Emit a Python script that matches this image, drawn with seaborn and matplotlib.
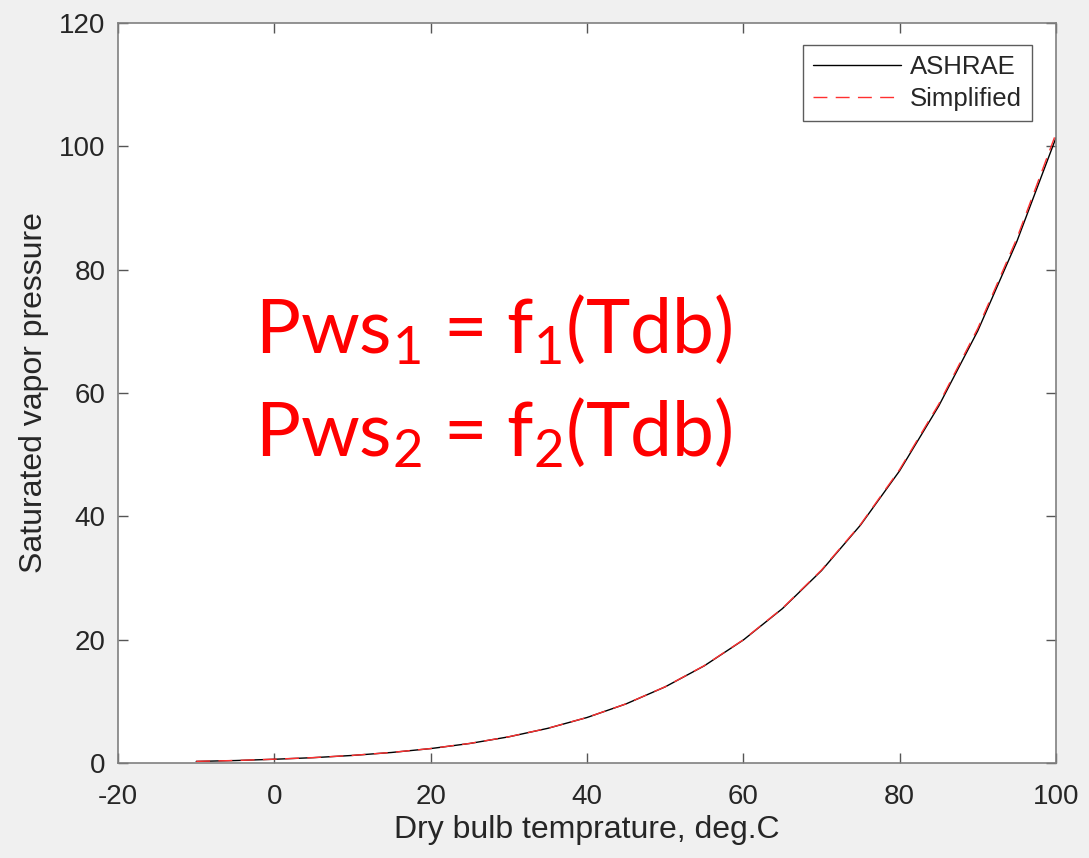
import numpy as np
import pandas as pd
import matplotlib
matplotlib.use("Agg")
import matplotlib.pyplot as plt
import seaborn as sns

# dry bulb temperature, deg.C
tdb = [-10, -5, 0, 5, 10, 15, 20, 25, 30, 35, 40, 45, 50,
       55, 60, 65, 70, 75, 80, 85, 90, 95, 100]
# saturated vapor pressure (kPa)
pws_ashrae = [0.26, 0.40, 0.61, 0.87, 1.23, 1.71, 2.34, 3.17, 4.25, 5.63,
              7.38, 9.59, 12.35, 15.76, 19.95, 25.04, 31.2, 38.6, 47.4,
              57.9, 70.1, 84.6, 101.4]
pws_simplified = [0.27, 0.41, 0.62, 0.88, 1.24, 1.72, 2.35, 3.18, 4.26, 5.64,
                  7.39, 9.60, 12.37, 15.79, 19.99, 25.10, 31.3, 38.7, 47.6,
                  58.2, 70.5, 85.1, 102.1]

x_ticks = [-20, 0, 20, 40, 60, 80, 100]
y_ticks = [0, 20, 40, 60, 80, 100, 120]

df = pd.DataFrame({"Tdb": tdb, "ASHRAE": pws_ashrae, "Simplified": pws_simplified})

sns.set_theme(style="white")
plt.rcParams["font.family"] = ["Liberation Sans", "DejaVu Sans"]
plt.rcParams["axes.unicode_minus"] = False
plt.rcParams["mathtext.fontset"] = "custom"
plt.rcParams["mathtext.rm"] = "Lato"
plt.rcParams["mathtext.it"] = "Lato"

fig = plt.figure(figsize=(10.89, 8.58), dpi=100, facecolor="#f0f0f0")
ax = fig.add_axes([0.1084, 0.1107, 0.8613, 0.8625])
ax.set_facecolor("white")

sns.lineplot(data=df, x="Tdb", y="ASHRAE", color="black", linewidth=1.0,
             label="ASHRAE", ax=ax)
sns.lineplot(data=df, x="Tdb", y="Simplified", color="#ff3030", linewidth=1.0,
             linestyle=(0, (10, 6)), label="Simplified", ax=ax)

ax.set_xlim(-20, 100)
ax.set_ylim(0, 120)
ax.set_xticks(x_ticks)
ax.set_yticks(y_ticks)
ax.tick_params(direction="in", length=7, width=1, color="#555555",
               labelsize=20, labelcolor="#262626", top=True, right=True,
               bottom=True, left=True)
ax.tick_params(axis="x", pad=15)
ax.tick_params(axis="y", pad=9)
for lbl in ax.get_yticklabels():
    lbl.set_verticalalignment("center_baseline")
for sp in ax.spines.values():
    sp.set_color("#808080")
    sp.set_linewidth(1.2)

ax.set_xlabel("Dry bulb temprature, deg.C", fontsize=23, color="#262626", labelpad=4)
ax.set_ylabel("Saturated vapor pressure", fontsize=23, color="#262626", labelpad=7)

leg = ax.legend(loc="upper right", bbox_to_anchor=(0.9744, 0.970), borderaxespad=0,
                fontsize=18.5, frameon=True, fancybox=False, handlelength=3.4,
                borderpad=0.4, labelspacing=0.3, handletextpad=0.35)
leg.get_frame().set_edgecolor("#333333")
leg.get_frame().set_linewidth(1.0)
for t in leg.get_texts():
    t.set_color("#262626")

ax.text(0.146, 0.554, r"Pws$_{1}$ = f$_{1}$(Tdb)", transform=ax.transAxes,
        fontsize=54, color="red", family="Lato", va="baseline")
ax.text(0.146, 0.415, r"Pws$_{2}$ = f$_{2}$(Tdb)", transform=ax.transAxes,
        fontsize=54, color="red", family="Lato", va="baseline")

fig.savefig("out.png", dpi=100, facecolor=fig.get_facecolor())
